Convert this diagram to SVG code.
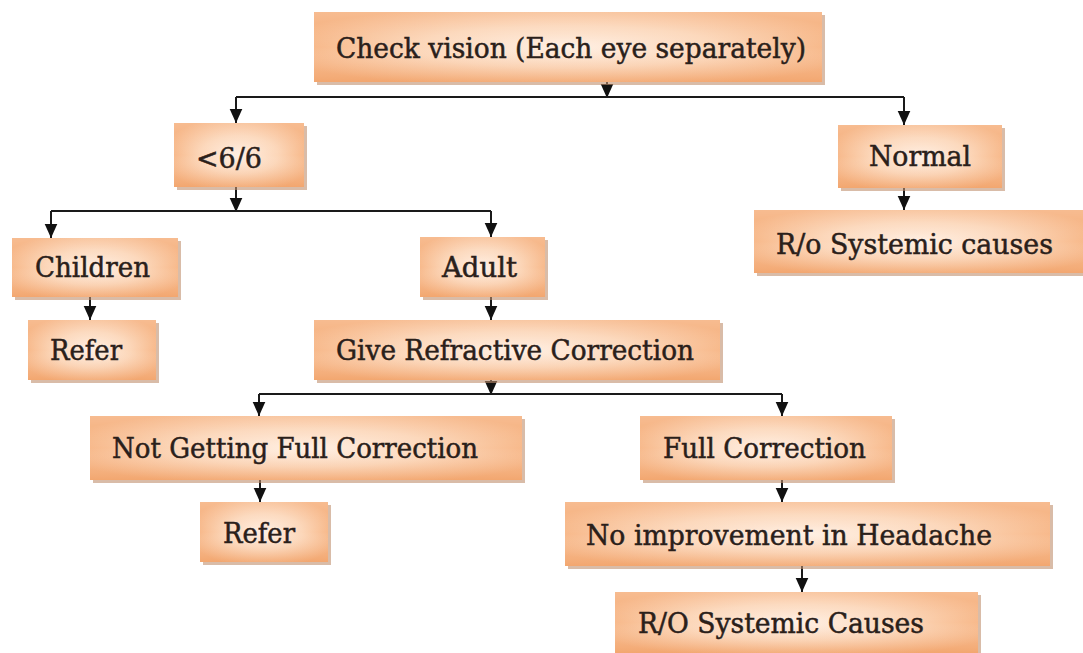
<svg xmlns="http://www.w3.org/2000/svg" width="1083" height="653" viewBox="0 0 1083 653">
<defs>
<radialGradient id="g" cx="0.5" cy="0.5" r="0.6">
<stop offset="0" stop-color="#fff0e4"/>
<stop offset="0.5" stop-color="#fcd6b8"/>
<stop offset="1" stop-color="#f5ab75"/>
</radialGradient>
<linearGradient id="v" x1="0" y1="0" x2="0" y2="1">
<stop offset="0" stop-color="#ffffff" stop-opacity="0.2"/>
<stop offset="0.5" stop-color="#ffffff" stop-opacity="0"/>
<stop offset="1" stop-color="#ee9f66" stop-opacity="0.4"/>
</linearGradient>
<marker id="ah" viewBox="0 0 10 10" refX="10" refY="5" markerWidth="14" markerHeight="14" markerUnits="userSpaceOnUse" orient="auto">
<path d="M0,0.5 L10,5 L0,9.5 z" fill="#111"/>
</marker>
</defs>
<style>
.sh{fill:#c0906e;opacity:0.6}
.bx{fill:url(#g)}
.ov{fill:url(#v)}
.t{font-family:"DejaVu Serif","Liberation Serif",serif;font-size:28px;fill:#2a201a;stroke:#2a201a;stroke-width:0.5}
.c{stroke:#1a1a1a;stroke-width:2;fill:none}
.a{stroke:#1a1a1a;stroke-width:2;fill:none;marker-end:url(#ah)}
</style>
<rect width="1083" height="653" fill="#ffffff"/>
<g id="connectors">
<line class="a" x1="607" y1="82" x2="607" y2="98"/>
<polyline class="c" points="236,97 904,97"/>
<line class="a" x1="236" y1="97" x2="236" y2="123"/>
<line class="a" x1="904" y1="97" x2="904" y2="125"/>
<line class="a" x1="904" y1="188" x2="904" y2="210"/>
<line class="a" x1="236" y1="187" x2="236" y2="212"/>
<polyline class="c" points="51,211 491,211"/>
<line class="a" x1="51" y1="211" x2="51" y2="238"/>
<line class="a" x1="491" y1="211" x2="491" y2="237"/>
<line class="a" x1="90" y1="297" x2="90" y2="320"/>
<line class="a" x1="491" y1="297" x2="491" y2="320"/>
<line class="a" x1="491" y1="380" x2="491" y2="395"/>
<polyline class="c" points="259,394 782,394"/>
<line class="a" x1="259" y1="394" x2="259" y2="416"/>
<line class="a" x1="782" y1="394" x2="782" y2="416"/>
<line class="a" x1="260" y1="480" x2="260" y2="502"/>
<line class="a" x1="782" y1="480" x2="782" y2="502"/>
<line class="a" x1="802" y1="566" x2="802" y2="592"/>
</g>
<g id="n1"><rect class="sh" x="317" y="15" width="508" height="70"/><rect class="bx" x="314" y="12" width="508" height="70"/><rect class="ov" x="314" y="12" width="508" height="70"/><text class="t" x="336" y="58" textLength="470" lengthAdjust="spacingAndGlyphs">Check vision (Each eye separately)</text></g>
<g id="n2"><rect class="sh" x="177" y="126" width="130" height="64"/><rect class="bx" x="174" y="123" width="130" height="64"/><rect class="ov" x="174" y="123" width="130" height="64"/><text class="t" x="196" y="168" textLength="66" lengthAdjust="spacingAndGlyphs">&lt;6/6</text></g>
<g id="n3"><rect class="sh" x="841" y="128" width="164" height="63"/><rect class="bx" x="838" y="125" width="164" height="63"/><rect class="ov" x="838" y="125" width="164" height="63"/><text class="t" x="869" y="166" textLength="102" lengthAdjust="spacingAndGlyphs">Normal</text></g>
<g id="n4"><rect class="sh" x="757" y="213" width="330" height="63"/><rect class="bx" x="754" y="210" width="330" height="63"/><rect class="ov" x="754" y="210" width="330" height="63"/><text class="t" x="776" y="254" textLength="277" lengthAdjust="spacingAndGlyphs">R/o Systemic causes</text></g>
<g id="n5"><rect class="sh" x="15" y="241" width="166" height="59"/><rect class="bx" x="12" y="238" width="166" height="59"/><rect class="ov" x="12" y="238" width="166" height="59"/><text class="t" x="35" y="277" textLength="115" lengthAdjust="spacingAndGlyphs">Children</text></g>
<g id="n6"><rect class="sh" x="31" y="323" width="128" height="60"/><rect class="bx" x="28" y="320" width="128" height="60"/><rect class="ov" x="28" y="320" width="128" height="60"/><text class="t" x="50" y="360" textLength="72" lengthAdjust="spacingAndGlyphs">Refer</text></g>
<g id="n7"><rect class="sh" x="423" y="240" width="125" height="60"/><rect class="bx" x="420" y="237" width="125" height="60"/><rect class="ov" x="420" y="237" width="125" height="60"/><text class="t" x="442" y="277" textLength="75" lengthAdjust="spacingAndGlyphs">Adult</text></g>
<g id="n8"><rect class="sh" x="317" y="323" width="406" height="60"/><rect class="bx" x="314" y="320" width="406" height="60"/><rect class="ov" x="314" y="320" width="406" height="60"/><text class="t" x="336" y="360" textLength="358" lengthAdjust="spacingAndGlyphs">Give Refractive Correction</text></g>
<g id="n9"><rect class="sh" x="93" y="419" width="432" height="64"/><rect class="bx" x="90" y="416" width="432" height="64"/><rect class="ov" x="90" y="416" width="432" height="64"/><text class="t" x="112" y="458" textLength="366" lengthAdjust="spacingAndGlyphs">Not Getting Full Correction</text></g>
<g id="n10"><rect class="sh" x="643" y="419" width="252" height="64"/><rect class="bx" x="640" y="416" width="252" height="64"/><rect class="ov" x="640" y="416" width="252" height="64"/><text class="t" x="663" y="458" textLength="203" lengthAdjust="spacingAndGlyphs">Full Correction</text></g>
<g id="n11"><rect class="sh" x="203" y="505" width="128" height="60"/><rect class="bx" x="200" y="502" width="128" height="60"/><rect class="ov" x="200" y="502" width="128" height="60"/><text class="t" x="223" y="543" textLength="72" lengthAdjust="spacingAndGlyphs">Refer</text></g>
<g id="n12"><rect class="sh" x="568" y="505" width="485" height="64"/><rect class="bx" x="565" y="502" width="485" height="64"/><rect class="ov" x="565" y="502" width="485" height="64"/><text class="t" x="586" y="545" textLength="406" lengthAdjust="spacingAndGlyphs">No improvement in Headache</text></g>
<g id="n13"><rect class="sh" x="618" y="595" width="363" height="61"/><rect class="bx" x="615" y="592" width="363" height="61"/><rect class="ov" x="615" y="592" width="363" height="61"/><text class="t" x="638" y="633" textLength="286" lengthAdjust="spacingAndGlyphs">R/O Systemic Causes</text></g>
</svg>
